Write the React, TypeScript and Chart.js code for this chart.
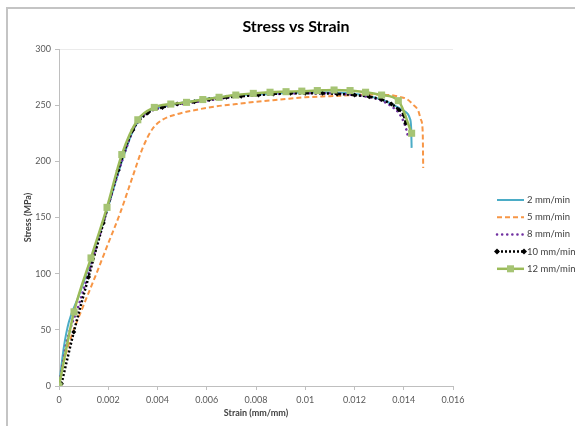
import React, { useEffect, useRef } from 'react';
import { Chart, registerables } from 'chart.js';

Chart.register(...registerables);

const chartTitle = 'Stress vs Strain';
const xAxisTitle = 'Strain (mm/mm)';
const yAxisTitle = 'Stress (MPa)';
const seriesLabels = ['2 mm/min', '5 mm/min', '8 mm/min', '10 mm/min', '12 mm/min'];

const xTickValues = [0, 0.002, 0.004, 0.006, 0.008, 0.01, 0.012, 0.014, 0.016];
const yTickValues = [0, 50, 100, 150, 200, 250, 300];

// 2 mm/min
const strain2 = [0, 0.0002, 0.0004, 0.0008, 0.0013, 0.002, 0.0026, 0.003, 0.0034, 0.0038, 0.0045, 0.0055, 0.0065, 0.0075, 0.0085, 0.0095, 0.0105, 0.0115, 0.012, 0.0126, 0.0131, 0.0136, 0.014, 0.01425, 0.0143, 0.01432];
const stress2 = [0, 35, 57, 80, 112, 160, 203, 227, 241, 246, 250, 254, 257, 259, 260, 261, 261.5, 261, 260, 258, 255, 250, 245, 238, 230, 212];

// 5 mm/min
const strain5 = [0, 0.0002, 0.0005, 0.001, 0.0015, 0.002, 0.0025, 0.003, 0.0034, 0.0038, 0.0042, 0.0048, 0.0056, 0.0064, 0.0072, 0.008, 0.009, 0.01, 0.011, 0.012, 0.0128, 0.01344, 0.0138, 0.01412, 0.0144, 0.01459, 0.0147, 0.01477, 0.01479];
const stress5 = [0, 22, 44, 72, 99, 127, 155, 187, 212, 229, 237, 242, 246, 249, 251, 253, 255, 257, 258, 259, 259.5, 259, 257.5, 255.5, 250, 245, 237, 226, 194];

// 8 mm/min
const strain8 = [0, 0.0003, 0.0008, 0.0014, 0.002, 0.0026, 0.0031, 0.0035, 0.004, 0.005, 0.006, 0.007, 0.008, 0.009, 0.01, 0.011, 0.012, 0.0126, 0.0131, 0.0135, 0.0138, 0.014, 0.01412, 0.01419];
const stress8 = [0, 38, 72, 115, 160, 203, 232, 242, 247, 251, 254, 257, 259, 260, 260.5, 260.5, 259, 257, 254, 249, 243, 235, 227, 220];

// 10 mm/min
const strain10 = [0.0001, 0.0006, 0.0012, 0.0018, 0.0024, 0.003, 0.0036, 0.0042, 0.0048, 0.0055, 0.0061, 0.0068, 0.0074, 0.0081, 0.0087, 0.0094, 0.01, 0.0107, 0.0113, 0.012, 0.0126, 0.0131, 0.0135, 0.0138, 0.014, 0.01408];
const stress10 = [2, 48, 97, 145, 192, 228, 243, 248, 251, 253, 255, 257, 258, 259, 260, 260.5, 260.5, 260.5, 260, 259, 257.5, 255, 251, 246, 241, 234];

// 12 mm/min
const strain12 = [0, 0.00061, 0.0013, 0.00195, 0.00255, 0.0032, 0.00387, 0.00454, 0.00518, 0.00584, 0.0065, 0.00718, 0.00789, 0.00857, 0.00922, 0.00986, 0.01049, 0.01117, 0.01182, 0.01245, 0.0131, 0.01378, 0.01432];
const stress12 = [0, 66, 114, 159, 206, 237, 248, 251, 252.5, 255, 257, 259, 260.5, 261.5, 262, 262.5, 263, 263.5, 263, 261.5, 259, 254, 225];

const FONT = 'Lato, "Open Sans", sans-serif';

const toPoints = (xs: number[], ys: number[]) => xs.map((x, i) => ({ x, y: ys[i] }));

const drawDiamond = (ctx: CanvasRenderingContext2D, x: number, y: number, r: number) => {
  ctx.beginPath();
  ctx.moveTo(x, y - r);
  ctx.lineTo(x + r, y);
  ctx.lineTo(x, y + r);
  ctx.lineTo(x - r, y);
  ctx.closePath();
  ctx.fill();
};

const overlayPlugin = {
  id: 'overlay',
  afterDraw(chart: any) {
    const ctx: CanvasRenderingContext2D = chart.ctx;
    ctx.save();
    // title
    ctx.fillStyle = '#000000';
    ctx.font = `bold 16px ${FONT}`;
    ctx.textAlign = 'center';
    ctx.textBaseline = 'middle';
    ctx.fillText(chartTitle, 296, 27);

    // legend
    const y0 = 200;
    const step = 17.2;
    const x1 = 497;
    const x2 = 524;
    const tx = 527;
    chart.data.datasets.forEach((ds: any, i: number) => {
      const y = y0 + i * step;
      ctx.save();
      ctx.strokeStyle = ds.borderColor;
      ctx.lineWidth = ds.borderWidth;
      ctx.lineCap = ds.borderCapStyle || 'butt';
      ctx.setLineDash(ds.borderDash || []);
      ctx.beginPath();
      ctx.moveTo(x1, y);
      ctx.lineTo(x2, y);
      ctx.stroke();
      ctx.setLineDash([]);
      ctx.fillStyle = ds.pointBackgroundColor || ds.borderColor;
      if (ds.pointStyle === 'rectRot' && ds.pointRadius > 0) {
        drawDiamond(ctx, x1, y, 3);
        drawDiamond(ctx, x2, y, 3);
      } else if (ds.pointStyle === 'rect' && ds.pointRadius > 0) {
        ctx.fillRect((x1 + x2) / 2 - 3.5, y - 3.5, 7, 7);
      }
      ctx.fillStyle = '#404040';
      ctx.font = `9.5px ${FONT}`;
      ctx.textAlign = 'left';
      ctx.textBaseline = 'middle';
      ctx.fillText(ds.label, tx, y);
      ctx.restore();
    });
    ctx.restore();
  },
};

export default function App() {
  const canvasRef = useRef<HTMLCanvasElement | null>(null);

  useEffect(() => {
    document.body.style.margin = '0';
    const canvas = canvasRef.current;
    if (!canvas) return;
    const chart = new Chart(canvas, {
      type: 'line',
      data: {
        datasets: [
          {
            label: seriesLabels[0],
            data: toPoints(strain2, stress2),
            borderColor: '#4bacc6',
            borderWidth: 2,
            pointRadius: 0,
            cubicInterpolationMode: 'monotone',
            order: 5,
          },
          {
            label: seriesLabels[1],
            data: toPoints(strain5, stress5),
            borderColor: '#f79646',
            borderWidth: 2,
            borderDash: [5, 3],
            pointRadius: 0,
            cubicInterpolationMode: 'monotone',
            order: 4,
          },
          {
            label: seriesLabels[2],
            data: toPoints(strain8, stress8),
            borderColor: '#7030a0',
            borderWidth: 2.5,
            borderDash: [0.1, 5],
            borderCapStyle: 'round',
            pointRadius: 0,
            cubicInterpolationMode: 'monotone',
            order: 3,
          },
          {
            label: seriesLabels[3],
            data: toPoints(strain10, stress10),
            borderColor: '#000000',
            borderWidth: 2.5,
            borderDash: [2, 2],
            pointStyle: 'rectRot',
            pointRadius: 2.5,
            pointBackgroundColor: '#000000',
            pointBorderColor: '#000000',
            pointBorderWidth: 0,
            cubicInterpolationMode: 'monotone',
            order: 2,
          },
          {
            label: seriesLabels[4],
            data: toPoints(strain12, stress12),
            borderColor: '#9bbb59',
            borderWidth: 2.5,
            pointStyle: 'rect',
            pointRadius: 5,
            pointBackgroundColor: '#a6c474',
            pointBorderColor: '#a6c474',
            pointBorderWidth: 0,
            cubicInterpolationMode: 'monotone',
            order: 1,
          },
        ],
      } as any,
      options: {
        animation: false,
        responsive: false,
        maintainAspectRatio: false,
        devicePixelRatio: 1,
        layout: { padding: { left: 0, right: 122, top: 49, bottom: 0 } },
        plugins: {
          legend: { display: false },
          title: { display: false },
          tooltip: { enabled: false },
        },
        scales: {
          x: {
            type: 'linear',
            min: 0,
            max: 0.016,
            afterFit: (s: any) => {
              s.height = 40;
            },
            afterBuildTicks: (s: any) => {
              s.ticks = xTickValues.map((v) => ({ value: v }));
            },
            ticks: {
              callback: (v: any) => String(Number(Number(v).toFixed(3))),
              font: { family: FONT, size: 9 },
              color: '#595959',
              padding: 5,
              maxRotation: 0,
              autoSkip: false,
            },
            grid: { drawOnChartArea: false, tickLength: 4, tickColor: '#bfbfbf' },
            border: { color: '#bfbfbf', width: 1 },
            title: {
              display: true,
              text: xAxisTitle,
              font: { family: FONT, size: 9, weight: 'bold' },
              color: '#404040',
              padding: { top: 0, bottom: 8 },
            },
          },
          y: {
            type: 'linear',
            min: 0,
            max: 300,
            afterFit: (s: any) => {
              s.width = 59;
            },
            afterBuildTicks: (s: any) => {
              s.ticks = yTickValues.map((v) => ({ value: v }));
            },
            ticks: {
              font: { family: FONT, size: 9 },
              color: '#595959',
              padding: 4,
            },
            grid: {
              color: (c: any) => (c.tick && c.tick.value === 300 ? '#ebebeb' : 'rgba(0,0,0,0)'),
              tickLength: 4,
              tickColor: '#bfbfbf',
            },
            border: { color: '#bfbfbf', width: 1 },
            title: {
              display: true,
              text: yAxisTitle,
              font: { family: FONT, size: 9, weight: 'bold' },
              color: '#404040',
              padding: { top: 23, bottom: 0 },
            },
          },
        },
      } as any,
      plugins: [overlayPlugin],
    });
    return () => chart.destroy();
  }, []);

  return (
    <div style={{ position: 'relative', width: 575, height: 426, overflow: 'hidden', background: '#ffffff' }}>
      <div
        style={{
          position: 'absolute',
          left: 6,
          top: 7,
          width: 700,
          height: 600,
          borderLeft: '2px solid #c4c4c4',
          borderTop: '2px solid #c4c4c4',
        }}
      />
      <canvas ref={canvasRef} width={575} height={426} style={{ position: 'absolute', left: 0, top: 0 }} />
    </div>
  );
}
